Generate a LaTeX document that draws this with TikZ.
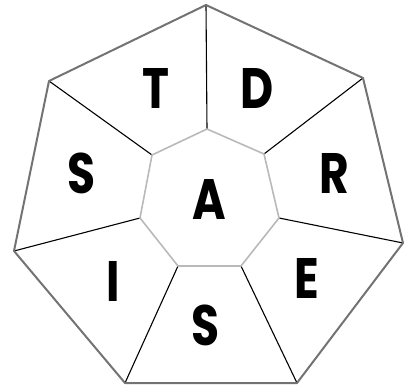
\documentclass[tikz,border=0pt]{standalone}
\usepackage{fontspec}
\newfontfamily\letterfont{Poppins}
\usepackage{tikz}

\begin{document}
\begin{tikzpicture}[x=1pt, y=-1pt,
    letter/.style={font=\letterfont\bfseries\fontsize{57}{57}\selectfont, inner sep=0pt, xscale=0.8},
    rim/.style={black!55, line width=2pt, line join=round},
    hub/.style={gray!55, line width=1.6pt, line join=round},
    spoke/.style={black, line width=1.1pt}]
  \useasboundingbox (0,0) rectangle (410,390);
  % outer ring
  \coordinate (o1) at (206,5);   \coordinate (o2) at (363,78);
  \coordinate (o3) at (403,243); \coordinate (o4) at (297,383);
  \coordinate (o5) at (125,383); \coordinate (o6) at (14,251);
  \coordinate (o7) at (49,81);
  % inner ring
  \coordinate (i1) at (207,129); \coordinate (i2) at (264,154);
  \coordinate (i3) at (279,218); \coordinate (i4) at (241,266);
  \coordinate (i5) at (178,266); \coordinate (i6) at (140,218);
  \coordinate (i7) at (152,155);
  \foreach \k in {1,...,7} \draw[spoke] (i\k) -- (o\k);
  \draw[rim] (o1) -- (o2) -- (o3) -- (o4) -- (o5) -- (o6) -- (o7) -- cycle;
  \draw[hub] (i1) -- (i2) -- (i3) -- (i4) -- (i5) -- (i6) -- (i7) -- cycle;
  \node[letter] (t)  at (156,88.5)  {T};
  \node[letter] (d)  at (257.5,88.5) {D};
  \node[letter] (r)  at (334,173.5) {R};
  \node[letter] (e)  at (307,278.5) {E};
  \node[letter] (s2) at (206,325)   {S};
  \node[letter] (i)  at (113.5,281.5) {I};
  \node[letter] (s1) at (81.5,173)  {S};
  \node[letter] (a)  at (209,199)   {A};
\end{tikzpicture}
\end{document}
